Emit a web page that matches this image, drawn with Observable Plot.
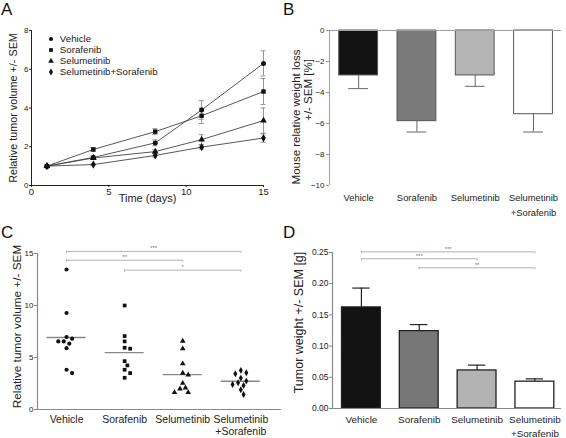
<!DOCTYPE html>
<html><head><meta charset="utf-8">
<script src="https://cdn.jsdelivr.net/npm/d3@7"></script>
<script src="https://cdn.jsdelivr.net/npm/@observablehq/plot@0.6"></script>
<style>
body{margin:0;background:#fff;font-family:"Liberation Sans",Arial,sans-serif;}
#wrap{position:relative;width:566px;height:438px;overflow:hidden;background:#fff;}
.panel{position:absolute;width:283px;height:219px;}
.panel svg{display:block;}
.letter{position:absolute;font-size:17px;color:#111;line-height:1;font-family:"Liberation Sans",Arial,sans-serif;}
#legendA{position:absolute;left:47px;top:34px;}
#legendA div{font-family:"Liberation Sans",Arial,sans-serif;font-size:9.7px;color:#222;line-height:10px;margin:0;}
</style></head><body>
<div id="wrap">
  <div class="panel" id="pA" style="left:0;top:0"></div>
  <div class="panel" id="pB" style="left:283px;top:0"></div>
  <div class="panel" id="pC" style="left:0;top:219px"></div>
  <div class="panel" id="pD" style="left:283px;top:219px"></div>
  <div id="legendA"></div>
  <div class="letter" style="left:1px;top:1px">A</div>
  <div class="letter" style="left:283px;top:1px">B</div>
  <div class="letter" style="left:1px;top:224px">C</div>
  <div class="letter" style="left:283px;top:224px">D</div>
</div>
<script>
// ---------- DATA ----------
// Panel A: tumor growth over time
const days = [1, 4, 8, 11, 15];
const seriesNames = ["Vehicle", "Sorafenib", "Selumetinib", "Selumetinib+Sorafenib"];
const volVehicle = [1.0, 1.45, 2.2, 3.9, 6.3];
const volSorafenib = [1.0, 1.86, 2.78, 3.6, 4.85];
const volSelumetinib = [1.0, 1.42, 1.75, 2.37, 3.35];
const volCombo = [1.0, 1.08, 1.55, 1.98, 2.45];
const semVehicle = [0.04, 0.08, 0.15, 0.48, 0.65];
const semSorafenib = [0.04, 0.1, 0.15, 0.4, 0.67];
const semSelumetinib = [0.04, 0.08, 0.1, 0.25, 0.65];
const semCombo = [0.04, 0.05, 0.08, 0.1, 0.22];
const ticksAx = [0, 5, 10, 15];
const ticksAy = [0, 2, 4, 6, 8];

// Panels B–D: treatment groups
const groups = ["Vehicle", "Sorafenib", "Selumetinib", "Selumetinib+Sorafenib"];
const groupLabels = ["Vehicle", "Sorafenib", "Selumetinib", "Selumetinib\n+Sorafenib"];

// Panel B: mouse relative weight loss (%)
const weightLoss = [-2.9, -5.85, -2.9, -5.4];
const weightLossSem = [0.85, 0.7, 0.7, 1.15];
const ticksBy = [0, -2, -4, -6, -8, -10];

// Panel C: final relative tumor volume per mouse
const finalVehicle = [13.46, 9.28, 6.97, 6.81, 6.55, 6.55, 6.33, 5.9, 3.82, 3.5];
const finalSorafenib = [10.0, 7.06, 6.55, 5.94, 5.85, 4.65, 4.24, 3.82, 3.5, 3.05];
const finalSelumetinib = [6.58, 5.85, 4.4, 3.5, 3.34, 2.53, 2.09, 1.99, 1.64, 1.64];
const finalCombo = [3.76, 3.53, 3.44, 3.02, 2.73, 2.57, 2.41, 2.31, 1.9, 1.45];
const ticksCy = [0, 5, 10, 15];
const sigFromC = [0, 0, 1];
const sigToC = [3, 2, 3];
const sigLevelC = [15.2, 14.35, 13.4];
const sigLabelC = ["***", "**", "*"];

// Panel D: tumor weight (g)
const tumorWeight = [0.162, 0.124, 0.061, 0.043];
const tumorWeightSem = [0.031, 0.0105, 0.0085, 0.0045];
const ticksDy = [0, 0.05, 0.10, 0.15, 0.20, 0.25];
const sigFromD = [0, 0, 1];
const sigToD = [3, 2, 3];
const sigLevelD = [0.251, 0.240, 0.2255];
const sigLabelD = ["***", "***", "**"];

// ---------- STYLE ----------
const font = "'Liberation Sans', Arial, sans-serif";
const symbolsA = ["circle", "square", "triangle", "diamond"];
const barFillB = ["#121212", "#7a7a7a", "#b4b4b4", "#ffffff"];
const barFillD = ["#121212", "#777777", "#b3b3b3", "#ffffff"];
const W = 283, H = 219;

// ---------- PANEL A ----------
const volumes = [volVehicle, volSorafenib, volSelumetinib, volCombo];
const sems = [semVehicle, semSorafenib, semSelumetinib, semCombo];
const rowsA = seriesNames.flatMap((s, k) => days.map((d, i) => ({series: s, day: d, v: volumes[k][i], sem: sems[k][i]})));
const capA = 0.16;
const plotA = Plot.plot({
  width: W, height: H, marginLeft: 31, marginRight: 20, marginTop: 30, marginBottom: 34,
  style: {fontFamily: font, background: "white", overflow: "visible", color: "#222"},
  x: {domain: [0, 15]},
  y: {domain: [0, 8]},
  symbol: {domain: seriesNames, range: symbolsA},
  marks: [
    Plot.ruleX(rowsA, {x: "day", y1: d => d.v - d.sem, y2: d => d.v + d.sem, stroke: "#8a8a8a", strokeWidth: 0.9}),
    Plot.ruleY(rowsA, {y: d => d.v + d.sem, x1: d => d.day - capA, x2: d => d.day + capA, stroke: "#8a8a8a", strokeWidth: 0.9}),
    Plot.ruleY(rowsA, {y: d => d.v - d.sem, x1: d => d.day - capA, x2: d => d.day + capA, stroke: "#8a8a8a", strokeWidth: 0.9}),
    Plot.line(rowsA, {x: "day", y: "v", z: "series", stroke: "#444", strokeWidth: 0.9}),
    Plot.dot(rowsA, {x: "day", y: "v", symbol: "series", fill: "#111", stroke: "none", r: 2.5}),
    Plot.ruleY([0], {stroke: "#222"}),
    Plot.ruleX([0], {stroke: "#222"}),
    Plot.axisX({ticks: ticksAx, tickSize: 2, tickPadding: 1, fontSize: 9.5, label: null, stroke: "#222", fill: "#222"}),
    Plot.axisY({ticks: ticksAy, tickSize: 2, tickPadding: 1, fontSize: 8, label: null, stroke: "#222", fill: "#222"}),
    Plot.text(["Time (days)"], {text: d => d, frameAnchor: "bottom", textAnchor: "middle", dy: 16, fontSize: 11, fill: "#222"}),
    Plot.text(["Relative tumor volume +/- SEM"], {text: d => d, frameAnchor: "left", textAnchor: "middle", rotate: -90, dx: -18, fontSize: 10.8, fill: "#222"})
  ]
});
document.getElementById("pA").appendChild(plotA);
document.getElementById("legendA").appendChild(
  plotA.legend("symbol", {fill: "#111", stroke: "none", r: 4.2, swatchSize: 8, columns: 1})
);

// ---------- PANEL B ----------
const barsB = groups.map((g, i) => ({i, g, v: weightLoss[i], sem: weightLossSem[i]}));
const halfB = 0.333, capB = 0.17;
const plotB = Plot.plot({
  width: W, height: H, marginLeft: 46, marginRight: 5, marginTop: 30, marginBottom: 34,
  style: {fontFamily: font, background: "white", overflow: "visible", color: "#222"},
  x: {domain: [-0.5, 3.48]},
  y: {domain: [-10, 0]},
  color: {type: "identity"},
  marks: [
    Plot.rectY(barsB, {x1: d => d.i - halfB, x2: d => d.i + halfB, y1: 0, y2: "v", fill: d => barFillB[d.i], stroke: "#555", strokeWidth: 1}),
    Plot.ruleX(barsB, {x: "i", y1: "v", y2: d => d.v - d.sem, stroke: "#666"}),
    Plot.ruleY(barsB, {y: d => d.v - d.sem, x1: d => d.i - capB, x2: d => d.i + capB, stroke: "#666"}),
    Plot.ruleY([0], {stroke: "#a0a0a0", strokeWidth: 1.2}),
    Plot.ruleX([-0.5], {stroke: "#a0a0a0"}),
    Plot.axisY({ticks: ticksBy, tickSize: 3, tickPadding: 2, fontSize: 8, label: null, stroke: "#999", fill: "#222"}),
    Plot.axisX({ticks: [0, 1, 2, 3], tickFormat: i => groupLabels[i], tickSize: 0, tickPadding: 5, fontSize: 9.4, lineHeight: 1.6, label: null, fill: "#222"}),
    Plot.text(["Mouse relative weight loss"], {text: d => d, frameAnchor: "left", textAnchor: "middle", rotate: -90, dx: -33, dy: 9, fontSize: 11.5, fill: "#222"}),
    Plot.text(["+/- SEM [%]"], {text: d => d, frameAnchor: "left", textAnchor: "middle", rotate: -90, dx: -21, dy: -18, fontSize: 11.5, fill: "#222"})
  ]
});
document.getElementById("pB").appendChild(plotB);

// ---------- PANEL C ----------
const finals = [finalVehicle, finalSorafenib, finalSelumetinib, finalCombo];
const mC = {left: 37, right: 2, top: 34, bottom: 29};
const domCx = [-0.5, 3.7], domCy = [0, 15];
const pxPerUnitC = (H - mC.top - mC.bottom) / (domCy[1] - domCy[0]);
const pxPerStepC = (W - mC.left - mC.right) / (domCx[1] - domCx[0]);
function swarmOffsets(vals, diam) {
  const placed = [];
  return vals.map(v => {
    const yp = v * pxPerUnitC;
    for (let k = 0; k < 40; k++) {
      const off = k === 0 ? 0 : (k % 2 ? 1 : -1) * Math.ceil(k / 2) * diam * 0.55;
      if (placed.every(p => Math.hypot(p.x - off, p.y - yp) >= diam)) {
        placed.push({x: off, y: yp});
        return off / pxPerStepC;
      }
    }
    return 0;
  });
}
const pointsC = finals.flatMap((vals, i) => {
  const offs = swarmOffsets(vals, 5);
  return vals.map((v, j) => ({i, g: groups[i], v, off: offs[j]}));
});
const meansC = finals.map((vals, i) => ({i, m: d3.mean(vals)}));
const sigC = sigFromC.map((f, k) => ({from: f, to: sigToC[k], level: sigLevelC[k], label: sigLabelC[k]}));
const tickLenC = 2 / pxPerUnitC;
const plotC = Plot.plot({
  width: W, height: H, marginLeft: mC.left, marginRight: mC.right, marginTop: mC.top, marginBottom: mC.bottom,
  style: {fontFamily: font, background: "white", overflow: "visible", color: "#222"},
  x: {domain: domCx},
  y: {domain: domCy},
  symbol: {domain: groups, range: symbolsA},
  marks: [
    Plot.ruleY(sigC, {y: "level", x1: "from", x2: "to", stroke: "#aaa", strokeWidth: 0.9}),
    Plot.ruleX(sigC, {x: "from", y1: "level", y2: d => d.level - tickLenC, stroke: "#aaa", strokeWidth: 0.9}),
    Plot.ruleX(sigC, {x: "to", y1: "level", y2: d => d.level - tickLenC, stroke: "#aaa", strokeWidth: 0.9}),
    Plot.text(sigC, {x: d => (d.from + d.to) / 2, y: "level", text: "label", dy: -3, fontSize: 6, fill: "#777"}),
    Plot.ruleY(meansC, {y: "m", x1: d => d.i - 0.336, x2: d => d.i + 0.336, stroke: "#888", strokeWidth: 1.4}),
    Plot.dot(pointsC, {x: d => d.i + d.off, y: "v", symbol: "g", fill: "#111", stroke: "none", r: 2.1}),
    Plot.ruleY([0], {stroke: "#8a8a8a", strokeWidth: 1.2}),
    Plot.ruleX([-0.5], {stroke: "#8a8a8a", strokeWidth: 1.2}),
    Plot.axisY({ticks: ticksCy, tickSize: 3, tickPadding: 1, fontSize: 8, label: null, stroke: "#888", fill: "#222"}),
    Plot.axisX({ticks: [0, 1, 2, 3], tickFormat: i => groupLabels[i], tickSize: 0, tickPadding: 5, fontSize: 10.5, lineHeight: 1.15, label: null, fill: "#222"}),
    Plot.text(["Relative tumor volume +/- SEM"], {text: d => d, frameAnchor: "left", textAnchor: "middle", rotate: -90, dx: -20, dy: -5, fontSize: 11.8, fill: "#222"})
  ]
});
document.getElementById("pC").appendChild(plotC);

// ---------- PANEL D ----------
const barsD = groups.map((g, i) => ({i, g, v: tumorWeight[i], sem: tumorWeightSem[i]}));
const mD = {left: 49, right: 5, top: 33, bottom: 30};
const domDy = [0, 0.25];
const tickLenD = 2 / ((H - mD.top - mD.bottom) / (domDy[1] - domDy[0]));
const sigD = sigFromD.map((f, k) => ({from: f, to: sigToD[k], level: sigLevelD[k], label: sigLabelD[k]}));
const halfD = 0.336, capD = 0.15;
const plotD = Plot.plot({
  width: W, height: H, marginLeft: mD.left, marginRight: mD.right, marginTop: mD.top, marginBottom: mD.bottom,
  style: {fontFamily: font, background: "white", overflow: "visible", color: "#222"},
  x: {domain: [-0.5, 3.46]},
  y: {domain: domDy},
  color: {type: "identity"},
  marks: [
    Plot.ruleY(sigD, {y: "level", x1: "from", x2: "to", stroke: "#aaa", strokeWidth: 0.9}),
    Plot.ruleX(sigD, {x: "from", y1: "level", y2: d => d.level - tickLenD, stroke: "#aaa", strokeWidth: 0.9}),
    Plot.ruleX(sigD, {x: "to", y1: "level", y2: d => d.level - tickLenD, stroke: "#aaa", strokeWidth: 0.9}),
    Plot.text(sigD, {x: d => (d.from + d.to) / 2, y: "level", text: "label", dy: -3, fontSize: 6, fill: "#777"}),
    Plot.ruleX(barsD, {x: "i", y1: "v", y2: d => d.v + d.sem, stroke: "#222", strokeWidth: 1.2}),
    Plot.ruleY(barsD, {y: d => d.v + d.sem, x1: d => d.i - capD, x2: d => d.i + capD, stroke: "#222", strokeWidth: 1.2}),
    Plot.rectY(barsD, {x1: d => d.i - halfD, x2: d => d.i + halfD, y1: 0, y2: "v", fill: d => barFillD[d.i], stroke: "#222", strokeWidth: 1.3}),
    Plot.ruleY([0], {stroke: "#8a8a8a", strokeWidth: 1.2}),
    Plot.ruleX([-0.5], {stroke: "#8a8a8a", strokeWidth: 1.2}),
    Plot.axisY({ticks: ticksDy, tickFormat: d3.format(".2f"), tickSize: 3, tickPadding: 1, fontSize: 8.5, label: null, stroke: "#888", fill: "#222"}),
    Plot.axisX({ticks: [0, 1, 2, 3], tickFormat: i => groupLabels[i], tickSize: 0, tickPadding: 4, fontSize: 9.9, lineHeight: 1.45, label: null, fill: "#222"}),
    Plot.text(["Tumor weight +/- SEM [g]"], {text: d => d, frameAnchor: "left", textAnchor: "middle", rotate: -90, dx: -34, dy: -8, fontSize: 12.5, fill: "#222"})
  ]
});
document.getElementById("pD").appendChild(plotD);
</script>
</body></html>
